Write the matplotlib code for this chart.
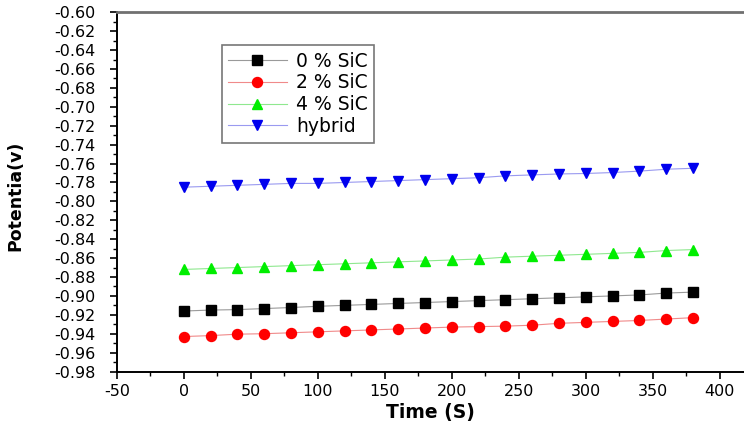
import matplotlib
matplotlib.use("Agg")
import matplotlib.pyplot as plt
from matplotlib.ticker import MultipleLocator, FormatStrFormatter

plt.rcParams["font.family"] = ["DejaVu Sans"]
plt.rcParams["axes.unicode_minus"] = False

# ── Données : potentiel (V) en fonction du temps (s) ─────────────────────────
time_s = [0, 20, 40, 60, 80, 100, 120, 140, 160, 180,
          200, 220, 240, 260, 280, 300, 320, 340, 360, 380]

sic_0 = [-0.916, -0.915, -0.9145, -0.9134, -0.9123, -0.911, -0.910, -0.909, -0.908, -0.907,
         -0.906, -0.905, -0.904, -0.903, -0.902, -0.901, -0.900, -0.899, -0.897, -0.896]
sic_2 = [-0.943, -0.942, -0.9405, -0.940, -0.939, -0.938, -0.937, -0.936, -0.935, -0.934,
         -0.933, -0.9325, -0.932, -0.931, -0.929, -0.928, -0.927, -0.926, -0.9245, -0.923]
sic_4 = [-0.872, -0.871, -0.870, -0.869, -0.868, -0.867, -0.866, -0.865, -0.864, -0.863,
         -0.862, -0.861, -0.859, -0.858, -0.857, -0.856, -0.855, -0.854, -0.852, -0.851]
hybrid = [-0.785, -0.784, -0.783, -0.782, -0.781, -0.781, -0.780, -0.779, -0.778, -0.777,
          -0.776, -0.775, -0.773, -0.772, -0.771, -0.7705, -0.7695, -0.768, -0.766, -0.765]

# (libellé, valeurs, marqueur, taille, couleur marqueur, couleur trait)
series = [
    ("0 % SiC", sic_0, "s", 6.8, "black", "#9a9a9a"),
    ("2 % SiC", sic_2, "o", 7.2, "red", "#f08a8a"),
    ("4 % SiC", sic_4, "^", 7.8, "#00ee00", "#8fe88f"),
    ("hybrid", hybrid, "v", 7.8, "#0000ee", "#9a9af0"),
]

fig = plt.figure(figsize=(7.44, 4.32), dpi=100)
ax = fig.add_axes([0.157, 0.140, 0.843, 0.8315])

for label, vals, mk, ms, mcol, lcol in series:
    ax.plot(time_s, vals, color=lcol, lw=0.8, marker=mk, ms=ms,
            mfc=mcol, mec=mcol, label=label)

ax.set_xlim(-50, 418)
ax.set_ylim(-0.98, -0.60)
ax.xaxis.set_major_locator(MultipleLocator(50))
ax.xaxis.set_minor_locator(MultipleLocator(25))
ax.yaxis.set_major_locator(MultipleLocator(0.02))
ax.yaxis.set_minor_locator(MultipleLocator(0.01))
ax.yaxis.set_major_formatter(FormatStrFormatter("%.2f"))

ax.tick_params(which="major", direction="out", length=5, width=1.2,
               labelsize=11.5)
ax.tick_params(axis="y", which="major", pad=10)
ax.tick_params(axis="x", which="major", pad=4)
ax.tick_params(which="minor", direction="out", length=3, width=1.0)

for side in ("left", "bottom"):
    ax.spines[side].set_linewidth(1.4)
ax.spines["top"].set_color("#707070")
ax.spines["top"].set_linewidth(2.0)
ax.spines["right"].set_visible(False)

ax.set_xlabel("Time (S)", fontsize=13.5, fontweight="bold", labelpad=3)
ax.set_ylabel("Potentia(v)", fontsize=12.5, fontweight="bold")
ax.yaxis.set_label_coords(-0.148, 0.49)

leg = ax.legend(loc="upper left", bbox_to_anchor=(0.1675, 0.909), fontsize=13.5,
                frameon=True, fancybox=False, edgecolor="#555555",
                handlelength=3.1, handletextpad=0.5, borderpad=0.35,
                labelspacing=0.15, borderaxespad=0)
leg.get_frame().set_linewidth(1.2)

fig.savefig("out.png", dpi=100)
